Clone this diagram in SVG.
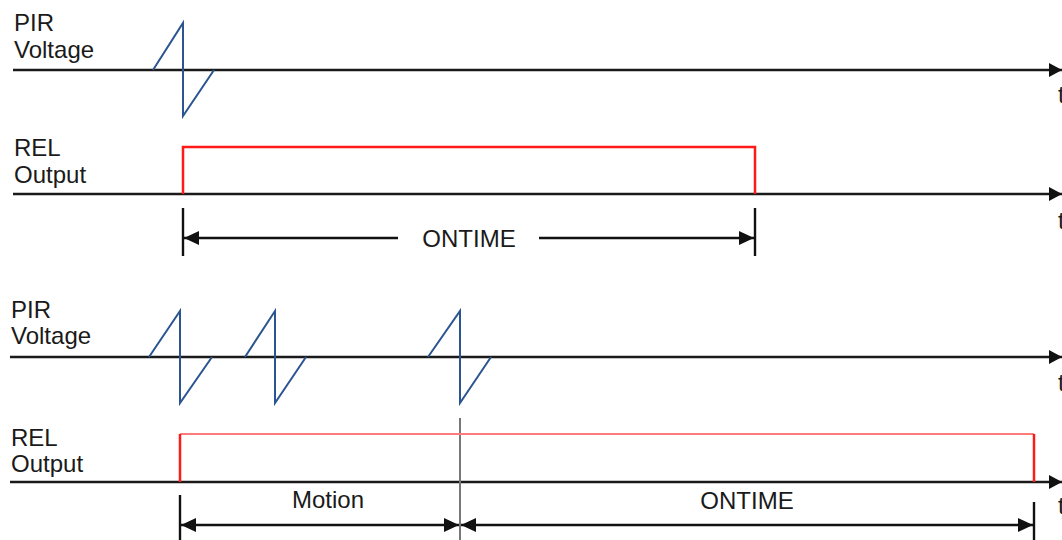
<svg xmlns="http://www.w3.org/2000/svg" width="1062" height="540" viewBox="0 0 1062 540">
<defs>
<marker id="ax" markerUnits="userSpaceOnUse" markerWidth="14" markerHeight="16" refX="13" refY="8" orient="auto"><path d="M0,1 L13,8 L0,15 Z" fill="#111"/></marker>
<marker id="dm" markerUnits="userSpaceOnUse" markerWidth="16" markerHeight="16" refX="15" refY="8" orient="auto-start-reverse"><path d="M0,1 L15,8 L0,15 Z" fill="#111"/></marker>
<style>
.t{font-family:"Liberation Sans",Arial,sans-serif;font-size:24px;fill:#1a1a1a}
.axis{stroke:#1a1a1a;stroke-width:2.6;fill:none}
.pir{stroke:#2b5590;stroke-width:2;fill:none}
.rel{stroke:#ff1a1a;stroke-width:2.5;fill:none}
.tick{stroke:#111;stroke-width:2.4}
.dim{stroke:#111;stroke-width:2.6;fill:none}
</style>
</defs>
<rect width="1062" height="540" fill="#fff"/>
<g id="labels">
<text class="t" x="14" y="31">PIR</text>
<text class="t" x="14" y="58">Voltage</text>
<text class="t" x="14" y="156">REL</text>
<text class="t" x="14" y="183">Output</text>
<text class="t" x="11" y="318">PIR</text>
<text class="t" x="11" y="344">Voltage</text>
<text class="t" x="11" y="446">REL</text>
<text class="t" x="11" y="472">Output</text>
<text class="t" x="1058" y="103">t</text>
<text class="t" x="1058" y="229">t</text>
<text class="t" x="1058" y="391">t</text>
<text class="t" x="1058" y="514">t</text>
</g>
<g id="connectors">
<line class="axis" x1="13" y1="70" x2="1062" y2="70" marker-end="url(#ax)"/>
<line class="axis" x1="13" y1="194" x2="1062" y2="194" marker-end="url(#ax)"/>
<line class="axis" x1="10" y1="357" x2="1062" y2="357" marker-end="url(#ax)"/>
<line class="axis" x1="10" y1="482" x2="1062" y2="482" marker-end="url(#ax)"/>
</g>
<g id="pir1">
<path class="pir" d="M153,70 L183,23 L183,116 L214,70"/>
</g>
<g id="rel1">
<path class="rel" d="M183,194 L183,147 L755,147 L755,194"/>
</g>
<g id="ontime1">
<line class="tick" x1="183" y1="208" x2="183" y2="256"/>
<line class="tick" x1="755" y1="208" x2="755" y2="256"/>
<line class="dim" x1="398" y1="238" x2="184" y2="238" marker-end="url(#dm)"/>
<line class="dim" x1="539" y1="238" x2="754" y2="238" marker-end="url(#dm)"/>
<text class="t" x="469" y="247" text-anchor="middle">ONTIME</text>
</g>
<g id="pir2">
<path class="pir" d="M149,357 L180,311 L180,403 L212,357"/>
<path class="pir" d="M245,357 L275,311 L275,403 L306,357"/>
<path class="pir" d="M428,357 L460,311 L460,403 L491,357"/>
</g>
<g id="rel2">
<line x1="460" y1="418" x2="460" y2="540" stroke="#777" stroke-width="2"/>
<path d="M180,434 L1034,434" stroke="#ff7a7a" stroke-width="2" fill="none"/>
<path class="rel" d="M180,482 L180,434"/>
<path class="rel" d="M1034,434 L1034,482"/>
</g>
<g id="motion">
<line class="tick" x1="180" y1="495" x2="180" y2="540"/>
<line class="dim" x1="181" y1="525" x2="459" y2="525" marker-start="url(#dm)" marker-end="url(#dm)"/>
<text class="t" x="328" y="508" text-anchor="middle">Motion</text>
</g>
<g id="ontime2">
<line class="tick" x1="1034" y1="502" x2="1034" y2="540"/>
<line class="dim" x1="461" y1="525" x2="1033" y2="525" marker-start="url(#dm)" marker-end="url(#dm)"/>
<text class="t" x="747" y="509" text-anchor="middle">ONTIME</text>
</g>
</svg>
